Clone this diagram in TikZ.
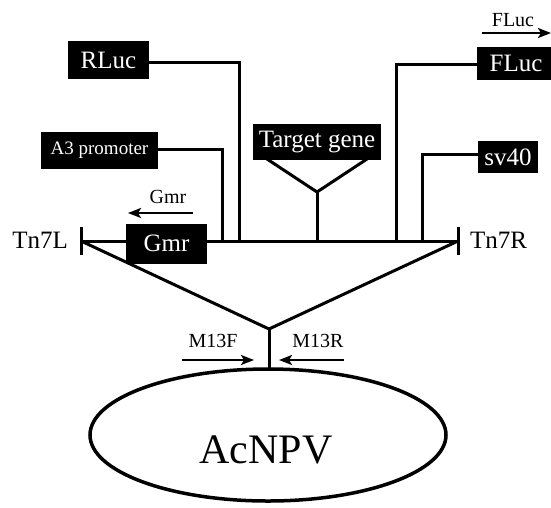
\documentclass[tikz,border=0pt]{standalone}
\usepackage{fontspec}
\setmainfont{Liberation Serif}
\usetikzlibrary{arrows.meta,shapes.geometric}
\begin{document}
\begin{tikzpicture}[x=1pt,y=-1pt,
  blk/.style={fill=black,text=white,inner sep=0pt,font=\fontsize{25}{25}\selectfont},
  lbl/.style={inner sep=0pt,font=\fontsize{20}{20}\selectfont},
  big/.style={inner sep=0pt,font=\fontsize{25}{25}\selectfont},
  ln/.style={line width=3pt},
  arr/.style={line width=2.5pt,-{Stealth[length=13pt,width=10pt,inset=3pt]}}]
\useasboundingbox (0,0) rectangle (551,507);
% boxes
\node[blk,minimum width=81pt,minimum height=38pt] (rluc) at (108.5,60) {RLuc};
\node[blk,minimum width=117pt,minimum height=37pt,font=\fontsize{19}{19}\selectfont] (a3) at (99.5,150.5) {A3 promoter};
\node[blk,minimum width=128pt,minimum height=36pt] (tg) at (317,142) {Target gene};
\node[blk,minimum width=78pt,minimum height=33pt] (fluc) at (516,63.5) {FLuc};
\node[blk,minimum width=60pt,minimum height=32pt] (sv) at (508,157) {sv40};
% main line coordinates
\coordinate (L) at (81,241);
\coordinate (R) at (458,241);
\coordinate (ma3) at (222,241);
\coordinate (mrl) at (239,241);
\coordinate (mtg) at (317,241);
\coordinate (mfl) at (396,241);
\coordinate (msv) at (422,241);
\coordinate (vl) at (267,159);
\coordinate (vr) at (367,159);
\coordinate (vb) at (317,192);
\coordinate (J) at (269,329);
\coordinate (Jb) at (269,369);
% main line and arms
\draw[ln] (L) -- (R);
\draw[ln] ([yshift=-14pt]L) -- ([yshift=14pt]L);
\draw[ln] ([yshift=-14pt]R) -- ([yshift=14pt]R);
\draw[ln] (rluc.east |- 0,62) -| (mrl);
\draw[ln] (a3.east |- 0,149) -| (ma3);
\draw[ln] (fluc.west |- 0,64) -| (mfl);
\draw[ln] (sv.west |- 0,154) -| (msv);
\draw[ln] (vl) -- (vb) -- (vr);
\draw[ln] (vb) -- (mtg);
\draw[ln] (L) -- (J) -- (R);
\draw[ln] (J) -- (Jb);
% Gmr box over the line
\node[blk,minimum width=81pt,minimum height=40pt] (gmr) at (166.5,243.5) {Gmr};
% ellipse
\node[draw,line width=3.5pt,ellipse,minimum width=356pt,minimum height=132pt,inner sep=0pt] (E) at (268,435) {};
\node[inner sep=0pt,font=\fontsize{42}{42}\selectfont] (ac) at (266,450) {AcNPV};
% side labels
\node[big,anchor=east] (tn7l) at (68,240) {Tn7L};
\node[big,anchor=west] (tn7r) at (470,240) {Tn7R};
% direction arrows
\coordinate (g1) at (193,213); \coordinate (g2) at (128,213);
\draw[arr] (g1) -- (g2);
\node[lbl] (gl) at (168,197) {Gmr};
\coordinate (f1) at (482,33); \coordinate (f2) at (551,33);
\draw[arr] (f1) -- (f2);
\node[lbl] (fl) at (513,20) {FLuc};
\coordinate (m1) at (182,360); \coordinate (m2) at (254,360);
\draw[arr] (m1) -- (m2);
\node[lbl] (mf) at (213,341) {M13F};
\coordinate (r1) at (344,360); \coordinate (r2) at (279,360);
\draw[arr] (r1) -- (r2);
\node[lbl] (mr) at (318,341) {M13R};
\end{tikzpicture}
\end{document}
